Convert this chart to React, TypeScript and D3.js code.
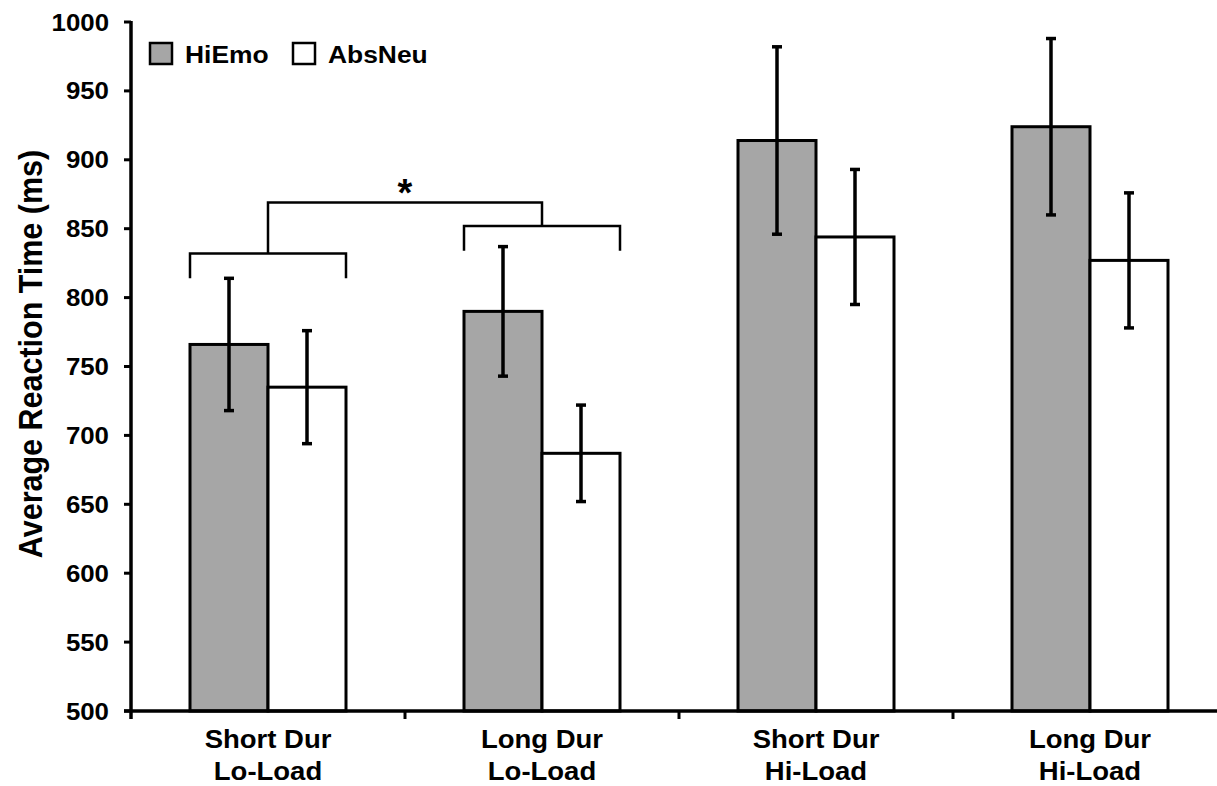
import React from "react";
import * as d3 from "d3";

// Condition labels (two lines each)
const durLabels = ["Short Dur", "Long Dur", "Short Dur", "Long Dur"];
const loadLabels = ["Lo-Load", "Lo-Load", "Hi-Load", "Hi-Load"];

// Mean reaction times (ms) and error bar half-widths
const hiEmo = [766, 790, 914, 924];
const absNeu = [735, 687, 844, 827];
const hiEmoErr = [48, 47, 68, 64];
const absNeuErr = [41, 35, 49, 49];

const seriesNames = ["HiEmo", "AbsNeu"];
const yTicks = [500, 550, 600, 650, 700, 750, 800, 850, 900, 950, 1000];

// Significance bracket levels (ms)
const leftBracket = { level: 832, leg: 814 };
const rightBracket = { level: 852, leg: 834 };
const topBracket = 869;

const W = 1217;
const H = 786;
const GRAY = "#a6a6a6";
const FONT = "'Liberation Sans', Arial, Helvetica, sans-serif";
const SX = 1.1; // horizontal text stretch

function SText(props: {
  x: number;
  y: number;
  anchor?: string;
  size: number;
  rotate?: number;
  children: React.ReactNode;
}) {
  const { x, y, anchor = "start", size, rotate = 0, children } = props;
  return (
    <text
      transform={`translate(${x},${y}) scale(${SX},1)${rotate ? ` rotate(${rotate})` : ""}`}
      textAnchor={anchor}
      fontFamily={FONT}
      fontWeight="bold"
      fontSize={size}
      fill="#000"
    >
      {children}
    </text>
  );
}

export default function App() {
  const axisX = 131;
  const y = d3.scaleLinear().domain([500, 1000]).range([711, 22]);
  const x = d3
    .scaleBand<number>()
    .domain(d3.range(durLabels.length))
    .range([axisX, 1227])
    .paddingInner(0)
    .paddingOuter(0);
  const barW = 78;
  const center = (i: number) => (x(i) as number) + x.bandwidth() / 2;

  const groups = durLabels.map((_, i) => ({
    i,
    bars: [
      { v: hiEmo[i], e: hiEmoErr[i], x0: center(i) - barW, fill: GRAY },
      { v: absNeu[i], e: absNeuErr[i], x0: center(i), fill: "#fff" },
    ],
  }));

  const cap = 5;
  const lb0 = center(0) - barW;
  const lb1 = center(0) + barW;
  const rb0 = center(1) - barW;
  const rb1 = center(1) + barW;

  return (
    <svg
      width={W}
      height={H}
      style={{ position: "absolute", left: 0, top: 0, background: "#fff" }}
    >
      <rect x={0} y={0} width={W} height={H} fill="#fff" />

      {/* bars */}
      {groups.map((g) =>
        g.bars.map((b, j) => (
          <rect
            key={`b${g.i}-${j}`}
            x={b.x0}
            y={y(b.v)}
            width={barW}
            height={y(500) - y(b.v)}
            fill={b.fill}
            stroke="#000"
            strokeWidth={3}
          />
        ))
      )}

      {/* error bars */}
      {groups.map((g) =>
        g.bars.map((b, j) => {
          const cx = b.x0 + barW / 2;
          return (
            <g key={`e${g.i}-${j}`} stroke="#000" strokeWidth={3.5}>
              <line x1={cx} x2={cx} y1={y(b.v + b.e)} y2={y(b.v - b.e)} />
              <line x1={cx - cap} x2={cx + cap} y1={y(b.v + b.e)} y2={y(b.v + b.e)} />
              <line x1={cx - cap} x2={cx + cap} y1={y(b.v - b.e)} y2={y(b.v - b.e)} />
            </g>
          );
        })
      )}

      {/* significance brackets */}
      <g fill="none" stroke="#000" strokeWidth={2.5}>
        <polyline
          points={`${lb0},${y(leftBracket.leg)} ${lb0},${y(leftBracket.level)} ${lb1},${y(leftBracket.level)} ${lb1},${y(leftBracket.leg)}`}
        />
        <polyline
          points={`${rb0},${y(rightBracket.leg)} ${rb0},${y(rightBracket.level)} ${rb1},${y(rightBracket.level)} ${rb1},${y(rightBracket.leg)}`}
        />
        <polyline
          points={`${center(0)},${y(leftBracket.level)} ${center(0)},${y(topBracket)} ${center(1)},${y(topBracket)} ${center(1)},${y(rightBracket.level)}`}
        />
      </g>
      <text
        x={(center(0) + center(1)) / 2}
        y={y(topBracket) + 3}
        textAnchor="middle"
        fontFamily={FONT}
        fontWeight="bold"
        fontSize={38}
      >
        *
      </text>

      {/* y axis */}
      <line x1={axisX} x2={axisX} y1={y(1000) - 1} y2={y(500) + 8} stroke="#000" strokeWidth={3.5} />
      {yTicks.map((t) => (
        <g key={`yt${t}`}>
          <line x1={axisX - 7} x2={axisX} y1={y(t)} y2={y(t)} stroke="#000" strokeWidth={3} />
          <SText x={axisX - 22} y={y(t) + 8.5} anchor="end" size={23.5}>
            {t}
          </SText>
        </g>
      ))}

      {/* x axis */}
      <line x1={axisX - 7} x2={W} y1={y(500)} y2={y(500)} stroke="#000" strokeWidth={3.5} />
      {d3.range(1, durLabels.length).map((i) => (
        <line
          key={`xt${i}`}
          x1={x(i) as number}
          x2={x(i) as number}
          y1={y(500)}
          y2={y(500) + 8}
          stroke="#000"
          strokeWidth={3}
        />
      ))}
      {durLabels.map((d, i) => (
        <g key={`xl${i}`}>
          <SText x={center(i)} y={748} anchor="middle" size={25}>
            {d}
          </SText>
          <SText x={center(i)} y={780} anchor="middle" size={25}>
            {loadLabels[i]}
          </SText>
        </g>
      ))}

      {/* y axis title */}
      <SText x={42} y={354} anchor="middle" size={30.5} rotate={-90}>
        Average Reaction Time (ms)
      </SText>

      {/* legend */}
      <rect x={150} y={43} width={22} height={21} fill={GRAY} stroke="#000" strokeWidth={2.5} />
      <SText x={185} y={62.5} size={24}>
        {seriesNames[0]}
      </SText>
      <rect x={293} y={43} width={22} height={21} fill="#fff" stroke="#000" strokeWidth={2.5} />
      <SText x={328} y={62.5} size={24}>
        {seriesNames[1]}
      </SText>
    </svg>
  );
}
